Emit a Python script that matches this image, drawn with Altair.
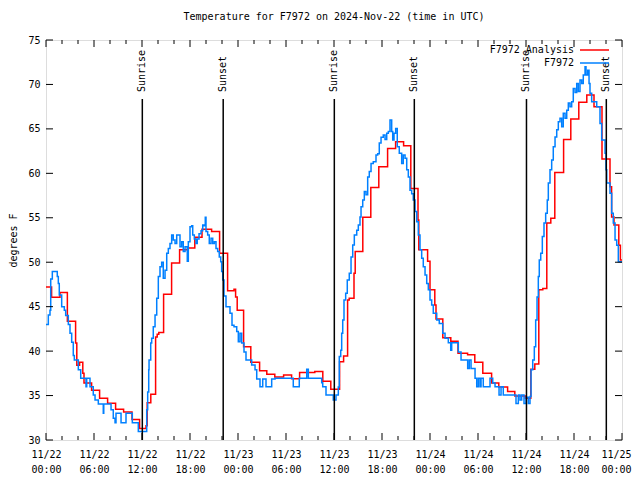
import altair as alt
import pandas as pd

FONT = "DejaVu Sans Mono"
title_text = "Temperature for F7972 on 2024-Nov-22 (time in UTC)"
y_title = "degrees F"
base_ms = int(pd.Timestamp("2024-11-22", tz="UTC").value // 10**6)
HOUR = 3600000

series_names = ["F7972 Analysis", "F7972"]
series_colors = ["#ff0000", "#0080ff"]

# Analysis (hourly, drawn as steps): hours after 2024-11-22 00:00 UTC
analysis_hours = [0.0, 0.7, 1.75, 2.67, 3.7, 3.85, 4.2, 4.6, 4.75, 5.7,
                  6.7, 7.7, 8.7, 9.7, 10.75, 11.7, 12.5, 12.65, 13.1, 13.7,
                  13.9, 14.1, 14.7, 15.7, 16.7, 17.7, 18.6, 19.5, 20.7, 21.7,
                  22.7, 23.5, 23.7, 23.9, 24.7, 25.6, 26.7, 27.6, 28.6, 29.7,
                  30.7, 31.7, 33.6, 34.6, 35.6, 36.7, 37.2, 37.7, 37.9, 38.5,
                  38.65, 39.6, 40.6, 41.6, 42.7, 43.7, 44.7, 45.6, 46.5, 46.6,
                  47.7, 48.0, 48.6, 48.75, 49.6, 50.6, 51.5, 52.7, 53.6, 54.6,
                  55.7, 56.6, 57.7, 58.6, 59.9, 60.6, 61.1, 61.6, 62.1, 62.6,
                  63.1, 63.6, 64.7, 65.6, 66.6, 67.6, 68.5, 69.5, 70.5, 70.7,
                  71.0, 71.6, 71.8, 72.0]
analysis_temps = [47.2, 46.05, 46.6, 43.35, 40.9, 38.4, 38.75, 37.5, 36.4, 35.6,
                  34.7, 34.13, 33.45, 33.15, 32.3, 31.3, 31.6, 34.2, 35.15, 41.6,
                  41.9, 42.1, 46.4, 49.9, 51.4, 51.6, 52.8, 53.7, 53.45, 51.0,
                  46.8, 46.95, 46.1, 44.6, 40.5, 38.75, 37.8, 37.4, 37.1, 37.3,
                  36.9, 37.6, 37.7, 36.6, 35.7, 38.8, 39.45, 45.75, 45.95, 48.75,
                  51.2, 55.05, 58.4, 60.75, 62.8, 63.55, 63.1, 58.3, 54.75, 51.4,
                  50.1, 46.9, 45.2, 43.6, 41.5, 41.1, 39.75, 39.6, 38.75, 37.5,
                  36.4, 35.95, 35.45, 34.95, 34.7, 37.95, 38.55, 46.9, 47.05, 54.4,
                  54.95, 60.1, 63.8, 66.1, 68.0, 68.8, 67.5, 61.6, 58.5, 55.1,
                  54.2, 51.9, 50.25, 50.25]

# Observations
obs_hours = [0.0, 0.29, 0.5, 0.59, 0.79, 1.41, 1.54, 1.66, 1.96, 2.29,
             2.46, 2.79, 3.0, 3.21, 3.41, 3.54, 4.04, 4.34, 5.0, 5.09,
             5.5, 5.91, 6.13, 6.54, 7.16, 7.22, 8.13, 8.41, 8.63, 8.75,
             9.38, 10.0, 10.79, 11.54, 12.59, 12.71, 12.84, 12.88, 13.09, 13.21,
             13.41, 13.63, 13.84, 14.04, 14.25, 14.46, 14.66, 14.88, 15.09, 15.29,
             15.5, 15.71, 15.91, 16.13, 16.34, 16.75, 16.96, 17.16, 17.38, 17.66,
             17.79, 18.0, 18.21, 18.34, 18.54, 18.75, 18.91, 19.13, 19.38, 19.59,
             19.75, 19.91, 20.0, 20.21, 20.41, 20.63, 20.84, 21.04, 21.25, 21.46,
             21.66, 21.84, 21.96, 22.09, 22.25, 22.5, 23.0, 23.25, 23.5, 23.84,
             24.04, 24.25, 24.46, 24.75, 25.0, 25.71, 26.13, 26.34, 26.75, 27.09,
             27.5, 28.21, 28.63, 30.91, 31.66, 32.59, 32.79, 34.46, 34.59, 35.0,
             35.91, 36.25, 36.54, 36.66, 36.84, 36.96, 37.09, 37.25, 37.46, 37.66,
             37.91, 38.13, 38.34, 38.54, 38.84, 39.04, 39.25, 39.38, 39.59, 39.79,
             40.0, 40.21, 40.41, 40.63, 40.91, 41.25, 41.46, 41.66, 41.88, 42.16,
             42.38, 42.59, 42.79, 43.0, 43.21, 43.34, 43.5, 43.71, 43.91, 44.16,
             44.46, 44.66, 44.88, 45.09, 45.29, 45.5, 45.71, 45.91, 46.13, 46.34,
             46.54, 46.75, 46.96, 47.16, 47.38, 47.59, 47.79, 48.0, 48.21, 48.41,
             48.84, 49.16, 49.59, 49.88, 50.29, 50.59, 50.71, 51.54, 51.88, 52.71,
             52.91, 53.13, 53.63, 53.84, 54.04, 54.25, 54.38, 54.66, 55.5, 55.84,
             56.13, 56.63, 56.88, 57.16, 58.75, 59.04, 59.25, 59.46, 59.75, 60.0,
             60.29, 60.5, 60.63, 60.84, 61.04, 61.21, 61.38, 61.54, 61.66, 61.84,
             62.04, 62.25, 62.46, 62.66, 62.79, 63.0, 63.21, 63.41, 63.63, 63.84,
             64.04, 64.25, 64.46, 64.66, 64.88, 65.09, 65.29, 65.5, 65.71, 65.91,
             66.13, 66.34, 66.54, 66.75, 66.96, 67.16, 67.38, 67.5, 67.71, 67.88,
             68.0, 68.21, 68.84, 69.25, 69.46, 69.88, 70.0, 70.09, 70.5, 70.71,
             70.91, 71.13, 71.34, 71.54, 72.0]
obs_temps = [43.0, 44.05, 44.6, 48.1, 48.95, 48.4, 47.6, 46.3, 45.0, 44.6,
             44.0, 43.0, 42.0, 41.0, 39.5, 39.0, 37.9, 36.95, 36.0, 36.95,
             36.0, 35.05, 34.5, 34.05, 33.0, 34.05, 33.4, 32.45, 31.95, 33.0,
             31.95, 33.0, 31.95, 30.95, 33.4, 35.4, 37.9, 39.0, 40.9, 41.45,
             42.75, 44.05, 45.95, 48.4, 49.5, 50.0, 48.2, 49.1, 51.0, 51.55,
             52.1, 53.05, 52.5, 52.1, 53.05, 51.75, 52.3, 51.2, 51.75, 50.1,
             52.3, 54.0, 54.1, 53.05, 52.6, 52.1, 52.6, 53.2, 53.55, 54.2,
             54.1, 55.05, 53.45, 53.05, 52.1, 52.7, 52.1, 52.3, 51.55, 51.2,
             50.6, 50.05, 48.95, 48.0, 46.2, 45.0, 44.25, 42.9, 42.75, 42.2,
             41.05, 42.0, 40.9, 39.9, 39.0, 38.45, 37.9, 36.85, 36.0, 36.85,
             36.0, 36.85, 36.95, 36.0, 36.95, 37.95, 36.95, 36.45, 36.0, 35.05,
             34.5, 35.05, 35.95, 39.4, 40.1, 42.0, 43.5, 45.75, 46.5, 48.0,
             48.75, 50.6, 51.95, 53.05, 53.6, 54.2, 55.1, 56.25, 57.0, 57.95,
             57.6, 59.6, 60.2, 61.1, 61.3, 62.05, 62.2, 63.4, 64.05, 64.3,
             63.8, 64.5, 64.7, 66.0, 64.7, 63.75, 64.5, 65.05, 63.0, 62.25,
             61.1, 62.05, 61.7, 60.4, 59.6, 58.1, 57.7, 57.0, 55.7, 54.55,
             53.05, 51.4, 50.45, 49.5, 48.55, 47.6, 46.9, 45.75, 45.2, 44.25,
             43.5, 43.1, 42.0, 41.45, 40.95, 40.1, 40.95, 39.9, 39.0, 38.05,
             39.0, 38.05, 36.95, 36.0, 36.95, 36.0, 36.95, 36.0, 36.95, 36.4,
             36.0, 35.05, 36.0, 35.05, 34.1, 35.05, 34.5, 35.05, 34.1, 34.8,
             34.1, 34.9, 37.9, 39.0, 40.5, 43.5, 46.1, 48.4, 50.25, 51.0,
             52.9, 54.4, 55.5, 57.0, 58.9, 60.4, 61.5, 63.0, 64.1, 64.9,
             65.8, 66.2, 65.25, 66.75, 66.2, 67.1, 67.9, 67.5, 68.05, 69.55,
             69.1, 70.1, 69.2, 70.5, 70.1, 71.05, 72.0, 71.05, 71.6, 70.1,
             69.0, 68.05, 67.5, 65.6, 63.75, 62.25, 60.4, 58.9, 57.75, 55.5,
             54.4, 52.5, 51.9, 50.05, 50.05]

sun_hours = [12.04, 22.15, 36.04, 46.04, 60.06, 70.04]
sun_labels = ["Sunrise", "Sunset", "Sunrise", "Sunset", "Sunrise", "Sunset"]

x_major_hours = [0, 6, 12, 18, 24, 30, 36, 42, 48, 54, 60, 66, 72]
x_minor_hours = [2, 4, 8, 10, 14, 16, 20, 22, 26, 28, 32, 34,
                 38, 40, 44, 46, 50, 52, 56, 58, 62, 64, 68, 70]
y_ticks = [30, 35, 40, 45, 50, 55, 60, 65, 70, 75]

W, H = 576, 400


def to_ms(hours):
    return [base_ms + h * HOUR for h in hours]


end_ms = base_ms + 72 * HOUR
ana_df = pd.DataFrame({"t": to_ms(analysis_hours), "temp": analysis_temps})
obs_df = pd.DataFrame({"t": to_ms(obs_hours), "temp": obs_temps})
sun_df = pd.DataFrame({"t": to_ms(sun_hours), "label": sun_labels})
xmaj_df = pd.DataFrame({"t": to_ms(x_major_hours)})
xmin_df = pd.DataFrame({"t": to_ms(x_minor_hours)})
ytick_df = pd.DataFrame({"temp": y_ticks})

xscale = alt.Scale(type="utc", domain=[base_ms, end_ms])
yscale = alt.Scale(domain=[30, 75], nice=False, zero=False)

last_test = f"datum.value >= {end_ms - HOUR}"
xaxis = alt.Axis(values=to_ms(x_major_hours),
                 labelExpr="[utcFormat(datum.value, '%m/%d'), utcFormat(datum.value, '%H:%M')]",
                 tickSize=0, domain=False, grid=False, title=None,
                 labelFont=FONT, labelFontSize=10, labelColor="black",
                 labelPadding=9, labelLineHeight=15, labelAngle=0,
                 labelAlign=alt.expr(f"{last_test} ? 'right' : 'center'"),
                 labelOffset=alt.expr(f"{last_test} ? 9 : 0"),
                 labelFlush=False, labelOverlap=False)
yaxis = alt.Axis(values=y_ticks, tickSize=0, domain=False, grid=False,
                 labelFont=FONT, labelFontSize=10, labelColor="black",
                 labelPadding=6, labelFlush=False, labelOverlap=False,
                 title=y_title, titleFont=FONT, titleFontSize=10,
                 titleFontWeight="normal", titleColor="black", titlePadding=9)

X = alt.X("t:T", scale=xscale, axis=xaxis)
Y = alt.Y("temp:Q", scale=yscale, axis=yaxis)

red = alt.Chart(ana_df).mark_line(interpolate="step-after", color=series_colors[0],
                                  strokeWidth=1.5).encode(x=X, y=Y)
blue = alt.Chart(obs_df).mark_line(interpolate="step-after", color=series_colors[1],
                                   strokeWidth=1.5).encode(x=X, y=Y)

sun_rules = alt.Chart(sun_df).mark_rule(color="black", strokeWidth=1.5).encode(
    x=X, y=alt.value(59), y2=alt.value(H))
sun_text = alt.Chart(sun_df).mark_text(angle=270, align="left", baseline="middle",
                                       font=FONT, fontSize=10, color="black").encode(
    x=X, y=alt.value(52), text="label:N")

tick_layers = []
for df, ln in ((xmaj_df, 7), (xmin_df, 4)):
    tick_layers.append(alt.Chart(df).mark_rule(color="black", strokeWidth=1).encode(
        x=X, y=alt.value(H), y2=alt.value(H - ln)))
    tick_layers.append(alt.Chart(df).mark_rule(color="black", strokeWidth=1).encode(
        x=X, y=alt.value(0), y2=alt.value(ln)))
tick_layers.append(alt.Chart(ytick_df).mark_rule(color="black", strokeWidth=1).encode(
    y=Y, x=alt.value(0), x2=alt.value(7)))
tick_layers.append(alt.Chart(ytick_df).mark_rule(color="black", strokeWidth=1).encode(
    y=Y, x=alt.value(W - 7), x2=alt.value(W)))

legend_layers = []
for i, (name, col) in enumerate(zip(series_names, series_colors)):
    ypos = 10 + 13 * i
    legend_layers.append(alt.Chart(pd.DataFrame({"name": [name]})).mark_text(
        align="right", baseline="middle", font=FONT, fontSize=10, color="black").encode(
        text="name:N", x=alt.value(528), y=alt.value(ypos)))
    legend_layers.append(alt.Chart(pd.DataFrame({"name": [name]})).mark_rule(
        color=col, strokeWidth=1.5).encode(
        x=alt.value(534), x2=alt.value(563), y=alt.value(ypos)))

chart = alt.layer(red, blue, sun_rules, sun_text, *tick_layers, *legend_layers).properties(
    width=W, height=H,
    title=alt.Title(title_text, font=FONT, fontSize=10, fontWeight="normal",
                    color="black", anchor="middle", frame="group", offset=13),
    autosize=alt.AutoSizeParams(type="none"),
    padding={"left": 38, "top": 32, "right": 10, "bottom": 38},
).configure_view(stroke="black", strokeWidth=1).configure(background="white")

chart.save("out.html", embed_options={"renderer": "svg", "actions": False})
